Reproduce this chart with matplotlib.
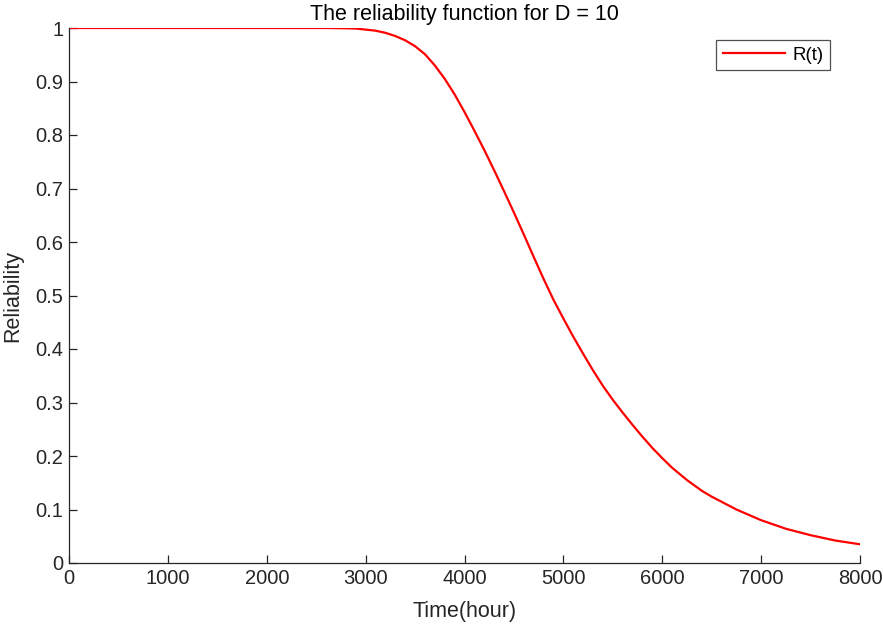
import matplotlib
matplotlib.use("Agg")
import matplotlib.pyplot as plt

# reliability R(t)
t_hours = [0, 1000, 2000, 2600, 2800, 2900, 3000, 3100, 3200, 3300, 3400,
           3500, 3600, 3700, 3800, 3900, 4000, 4100, 4200, 4300, 4400,
           4500, 4600, 4700, 4800, 4900, 5000, 5100, 5200, 5300, 5400,
           5500, 5600, 5700, 5800, 5900, 6000, 6100, 6250, 6400, 6500,
           6750, 7000, 7250, 7500, 7750, 8000]
reliability = [1.0, 1.0, 1.0, 1.0, 0.9995, 0.999, 0.997, 0.995, 0.991,
               0.985, 0.977, 0.966, 0.951, 0.930, 0.905, 0.876, 0.843,
               0.808, 0.772, 0.734, 0.695, 0.655, 0.614, 0.572, 0.531,
               0.492, 0.457, 0.423, 0.391, 0.360, 0.331, 0.305, 0.281,
               0.258, 0.236, 0.215, 0.196, 0.178, 0.155, 0.135, 0.124,
               0.100, 0.080, 0.064, 0.052, 0.042, 0.035]

x_ticks = [0, 1000, 2000, 3000, 4000, 5000, 6000, 7000, 8000]
y_ticks = [0, 0.1, 0.2, 0.3, 0.4, 0.5, 0.6, 0.7, 0.8, 0.9, 1]
y_labels = ["0", "0.1", "0.2", "0.3", "0.4", "0.5", "0.6", "0.7", "0.8", "0.9", "1"]

plt.rcParams['font.family'] = ['Liberation Sans', 'DejaVu Sans']
axis_col = '#262626'

fig = plt.figure(figsize=(8.83, 6.30), dpi=100)
ax = fig.add_axes([69 / 883, 1 - 563 / 630, 791 / 883, 535 / 630])

ax.plot(t_hours, reliability, color='#ff0000', lw=1.6, label='R(t)')

ax.set_xlim(0, 8000)
ax.set_ylim(0, 1)
ax.set_xticks(x_ticks)
ax.set_xticklabels([str(v) for v in x_ticks])
ax.set_yticks(y_ticks)
ax.set_yticklabels(y_labels)

for side in ['top', 'right']:
    ax.spines[side].set_visible(False)
for side in ['left', 'bottom']:
    ax.spines[side].set_color(axis_col)
    ax.spines[side].set_linewidth(0.9)

ax.tick_params(direction='in', length=6, width=0.9, colors=axis_col,
               labelsize=14.5, pad=4)

ax.set_xlabel('Time(hour)', fontsize=15.5, color=axis_col, labelpad=10)
ax.set_ylabel('Reliability', fontsize=15.5, color=axis_col, labelpad=9)
ax.set_title('The reliability function for D = 10', fontsize=15.5,
             color='black', pad=6)

leg = ax.legend(loc='upper right', bbox_to_anchor=(830 / 883, 1 - 40 / 630),
                bbox_transform=fig.transFigure, fontsize=13.5, frameon=True,
                fancybox=False, handlelength=3.3, borderpad=0.35,
                handletextpad=0.4, borderaxespad=0)
leg.get_frame().set_edgecolor(axis_col)
leg.get_frame().set_linewidth(0.9)

fig.savefig('out.png', dpi=100)
